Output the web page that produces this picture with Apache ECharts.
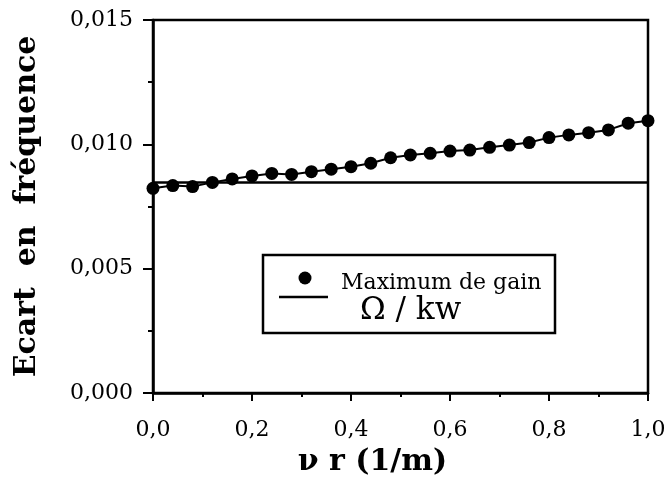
<!DOCTYPE html>
<html>
<head>
<meta charset="utf-8">
<script src="https://cdn.jsdelivr.net/npm/echarts@6/dist/echarts.min.js"></script>
<style>html,body{margin:0;padding:0;background:#fff}#c{width:670px;height:482px}</style>
</head>
<body>
<div id="c"></div>
<script>
var gainX = [0.00,0.04,0.08,0.12,0.16,0.20,0.24,0.28,0.32,0.36,0.40,0.44,0.48,0.52,0.56,0.60,0.64,0.68,0.72,0.76,0.80,0.84,0.88,0.92,0.96,1.00];
var gainY = [0.00823,0.00834,0.00830,0.00847,0.00861,0.00873,0.00883,0.00879,0.00890,0.00900,0.00910,0.00924,0.00946,0.00957,0.00964,0.00973,0.00977,0.00988,0.00997,0.01007,0.01027,0.01038,0.01047,0.01058,0.01085,0.01095];
var omegaX = [0, 1];
var omegaY = [0.00847, 0.00847];
var seriesNames = ['Maximum de gain', 'Ω / kw'];

var FONT = 'DejaVu Serif';
function pairs(xs, ys){ return xs.map(function(x,i){ return [x, ys[i]]; }); }

var chart = echarts.init(document.getElementById('c'), null, {renderer:'canvas'});
chart.setOption({
  animation: false,
  backgroundColor: '#fff',
  grid: {left:153, right:22, top:20, bottom:89, show:true, borderColor:'#000', borderWidth:2.5,
    outerBoundsMode:'none', containLabel:false},
  xAxis: {
    type:'value', min:0, max:1, interval:0.2,
    name:'ν r (1/m)', nameLocation:'middle', nameGap:54, nameMoveOverlap:false,
    nameTextStyle:{fontFamily:FONT, fontWeight:'bold', fontSize:30, color:'#000', padding:[0,56,0,0]},
    axisLine:{show:true, lineStyle:{color:'#000', width:2.5}},
    axisTick:{show:true, inside:false, length:8, lineStyle:{color:'#000', width:2}},
    minorTick:{show:true, splitNumber:2, length:4, lineStyle:{color:'#000', width:2}},
    splitLine:{show:false},
    axisLabel:{fontFamily:FONT, fontSize:22, color:'#000', margin:26, hideOverlap:false,
      formatter:function(v){ return v.toFixed(1).replace('.',','); }}
  },
  yAxis: {
    type:'value', min:0, max:0.015, interval:0.005,
    name:'Ecart  en  fréquence', nameLocation:'middle', nameRotate:90, nameGap:111, nameMoveOverlap:false,
    nameTextStyle:{fontFamily:FONT, fontWeight:'bold', fontSize:30, color:'#000'},
    axisLine:{show:true, lineStyle:{color:'#000', width:2.5}},
    axisTick:{show:true, inside:false, length:10, lineStyle:{color:'#000', width:2}},
    minorTick:{show:true, splitNumber:2, length:5, lineStyle:{color:'#000', width:2}},
    splitLine:{show:false},
    axisLabel:{fontFamily:FONT, fontSize:22, color:'#000', margin:20,
      formatter:function(v){ return v.toFixed(3).replace('.',','); }}
  },
  graphic: [
    {type:'group', z:100, silent:true, children:[
      {type:'rect', shape:{x:263, y:255, width:292, height:78}, style:{fill:'#fff', stroke:'#000', lineWidth:2.5}},
      {type:'circle', shape:{cx:305, cy:278, r:6.5}, style:{fill:'#000'}},
      {type:'line', shape:{x1:279, y1:297, x2:328, y2:297}, style:{stroke:'#000', lineWidth:2.5}},
      {type:'text', style:{text:seriesNames[0], x:341, y:283, font:'22px "DejaVu Serif"', fill:'#000', align:'left', verticalAlign:'middle'}},
      {type:'text', style:{text:seriesNames[1], x:360, y:311, font:'31px "DejaVu Serif"', fill:'#000', align:'left', verticalAlign:'middle'}}
    ]}
  ],
  series: [
    {
      name:seriesNames[0], type:'line', data:pairs(gainX, gainY),
      symbol:'circle', symbolSize:13, showSymbol:true, clip:false,
      itemStyle:{color:'#000'}, lineStyle:{color:'#000', width:2}, z:3
    },
    {
      name:seriesNames[1], type:'line', data:pairs(omegaX, omegaY),
      symbol:'none', itemStyle:{color:'#000'}, lineStyle:{color:'#000', width:2.5}, z:2
    }
  ]
});
</script>
</body>
</html>
